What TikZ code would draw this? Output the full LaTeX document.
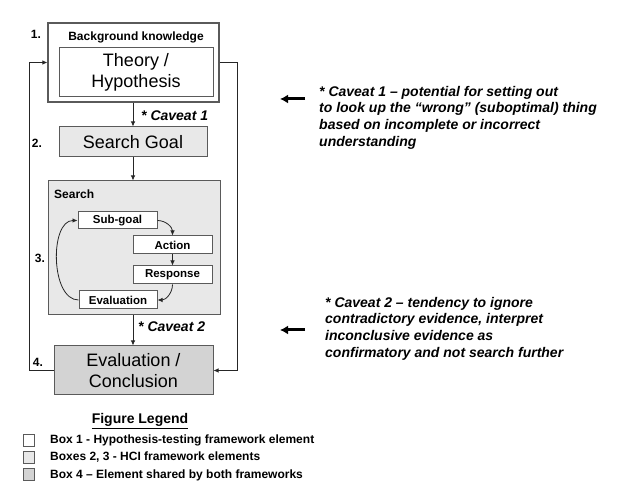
\documentclass[tikz,border=0pt]{standalone}
\usepackage{fontspec}
\setmainfont{Liberation Sans}
\usetikzlibrary{arrows.meta}
\definecolor{boxline}{HTML}{5A5A5A}
\definecolor{lightfill}{HTML}{E8E8E8}
\definecolor{darkfill}{HTML}{D3D3D3}
\begin{document}
\begin{tikzpicture}[x=1pt,y=-1pt,
  box/.style={draw=boxline, line width=1pt, inner sep=0pt},
  big/.style={font=\fontsize{18}{21}\selectfont, align=center},
  lab/.style={font=\bfseries\fontsize{12}{14}\selectfont, inner sep=0pt},
  num/.style={font=\bfseries\fontsize{12}{14}\selectfont, inner sep=0pt},
  inner/.style={box, fill=white, font=\bfseries\fontsize{11.5}{13}\selectfont},
  conn/.style={draw=black!85, line width=0.8pt, -{Latex[length=5pt,width=4.5pt]}},
  cavlab/.style={font=\bfseries\itshape\fontsize{14}{16}\selectfont, inner sep=0pt},
  caveat/.style={font=\bfseries\itshape\fontsize{14}{16.6}\selectfont, align=left, anchor=north west, inner sep=0pt},
  bigarrow/.style={line width=3pt, -{Latex[length=8pt,width=9pt]}},
  legbox/.style={draw=boxline, line width=0.8pt, minimum width=11pt, minimum height=12pt, inner sep=0pt},
  legtext/.style={font=\bfseries\fontsize{12}{14}\selectfont, anchor=west, inner sep=0pt}]
\useasboundingbox (0,0) rectangle (630,489);

% Box 1
\node[box, line width=1.2pt, minimum width=171pt, minimum height=79pt] (bk) at (133.5,62.5) {};
\node[lab] (bkl) at (136,37) {Background knowledge};
\node[box, big, minimum width=154pt, minimum height=49pt] (th) at (136,72.5) {Theory /\\Hypothesis};
\node[num] (n1) at (36,34) {1.};

% Box 2
\node[box, big, fill=lightfill, minimum width=148pt, minimum height=30pt] (sg) at (133,142) {Search Goal};
\node[num] (n2) at (37,143) {2.};

% Box 3
\node[box, fill=lightfill, minimum width=172pt, minimum height=134pt] (sb) at (134,248) {};
\node[lab, anchor=west] (sl) at (54,194) {Search};
\node[num] (n3) at (40,258) {3.};
\node[inner, minimum width=79pt, minimum height=17pt] (sub) at (117.5,220.5) {Sub-goal};
\node[inner, minimum width=79pt, minimum height=18pt] (act) at (172.5,245) {Action};
\node[inner, minimum width=79pt, minimum height=18pt] (resp) at (172.5,275) {Response};
\node[inner, minimum width=78pt, minimum height=18pt] (eval) at (118,300) {Evaluation};

% Box 4
\node[box, big, fill=darkfill, minimum width=159pt, minimum height=49pt] (b4) at (133.5,370.5) {Evaluation /\\Conclusion};
\node[num] (n4) at (38,362) {4.};

% main arrows
\draw[conn] (bk.south -| sg) -- (sg.north);
\draw[conn] (sg.south) -- (sb.north -| sg);
\draw[conn] (sb.south -| sg) -- (b4.north -| sg);
\node[cavlab, anchor=west] (cv1) at (141,116) {* Caveat 1};
\node[cavlab, anchor=west] (cv2) at (138,327) {* Caveat 2};

% feedback loops
\draw[conn] (b4.west) -- ++(-24,0) |- (bk.west);
\draw[conn] (bk.east) -- ++(18,0) |- (b4.east);

% inner search loop
\draw[conn] (sub.east) to[out=0,in=90] (act.north);
\draw[conn] (act) -- (resp);
\draw[conn] (resp.south) to[out=-90,in=0] (eval.east);
\draw[conn] (eval.west) to[out=180,in=180,looseness=0.9] (sub.west);

% caveats on the right
\coordinate (a1s) at (305,99);
\coordinate (a1e) at (280,99);
\draw[bigarrow] (a1s) -- (a1e);
\node[caveat] (c1) at (319,86) {* Caveat 1 -- potential for setting out\\to look up the “wrong” (suboptimal) thing\\based on incomplete or incorrect\\understanding};

\coordinate (a2s) at (305,330);
\coordinate (a2e) at (280,330);
\draw[bigarrow] (a2s) -- (a2e);
\node[caveat] (c2) at (325,297) {* Caveat 2 -- tendency to ignore\\contradictory evidence, interpret\\inconclusive evidence as\\confirmatory and not search further};

% legend
\node[font=\bfseries\fontsize{14}{16}\selectfont, inner sep=0pt] (lt) at (140,421) {\underline{Figure Legend}};
\node[legbox, fill=white] (l1) at (28.5,440) {};
\node[legbox, fill=lightfill] (l2) at (28.5,457.5) {};
\node[legbox, fill=darkfill] (l3) at (28.5,474) {};
\node[legtext] (t1) at (50,440) {Box 1 - Hypothesis-testing framework element};
\node[legtext] (t2) at (50,457) {Boxes 2, 3 - HCI framework elements};
\node[legtext] (t3) at (50,475) {Box 4 -- Element shared by both frameworks};
\end{tikzpicture}
\end{document}
